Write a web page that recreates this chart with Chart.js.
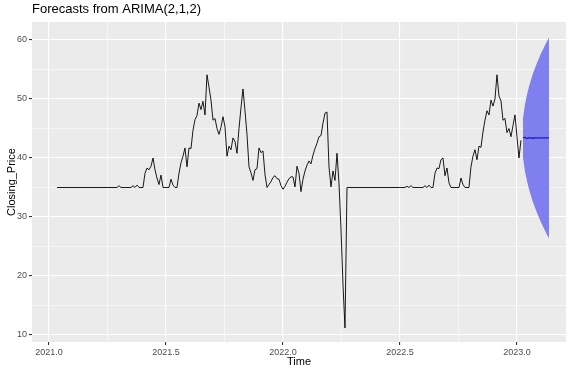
<!DOCTYPE html>
<html>
<head>
<meta charset="utf-8">
<script src="https://cdn.jsdelivr.net/npm/chart.js@4/dist/chart.umd.min.js"></script>
<style>
  html, body { margin: 0; padding: 0; background: #ffffff; }
  #wrap { width: 571px; height: 374px; }
</style>
</head>
<body>
<div id="wrap"><canvas id="chart" width="571" height="374"></canvas></div>
<script>
// Observed closing prices, evenly spaced in time from timeStart with step timeStep
const timeStart = 2021.0342;
const timeStep = 1 / 117;

const closingPrice = [
  35.0, 35.0, 35.0, 35.0, 35.0, 35.0, 35.0, 35.0, 35.0, 35.0, 35.0, 35.0, 35.0, 35.0, 35.0, 35.0,
  35.0, 35.0, 35.0, 35.0, 35.0, 35.0, 35.0, 35.0, 35.0, 35.0, 35.0, 35.0, 35.0, 35.0, 35.0,
  35.3, 35.0, 35.0, 35.0, 35.0, 35.0, 35.0, 35.3, 35.0, 35.4, 35.0, 35.0, 35.0,
  37.4, 38.3, 38.0, 38.6, 40.0, 38.0, 36.6, 35.5, 37.1, 35.0, 35.0, 35.0, 35.0, 36.4, 35.4, 35.0, 35.0,
  37.4, 39.2, 40.3, 41.7, 38.5, 41.7, 41.6, 44.7, 46.5, 47.2, 49.3, 48.2, 49.6, 47.3, 54.1, 52.0, 49.8, 46.4, 46.7, 45.0,
  44.0, 45.2, 47.0, 45.3, 40.3, 42.0, 41.4, 43.4, 42.8, 40.8, 45.0, 48.5, 51.7, 48.0, 44.0, 38.5, 37.5, 36.2, 38.0, 38.2,
  41.7, 40.9, 41.2, 37.2, 35.0, 35.5, 36.0, 36.7, 37.0, 36.5, 36.4, 35.3, 34.7, 35.2, 35.9, 36.5, 36.8, 36.8, 35.1, 38.6,
  37.4, 34.3, 36.4, 37.8, 38.8, 39.5, 39.0, 40.5, 41.6, 42.5, 43.6, 43.8, 45.9, 47.6, 47.8, 38.5, 35.1, 37.8, 36.2, 40.8,
  35.7, 28.0, 18.5, 11.2, 35.0,
  35.0, 35.0, 35.0, 35.0, 35.0, 35.0, 35.0, 35.0, 35.0, 35.0, 35.0, 35.0, 35.0, 35.0, 35.0,
  35.0, 35.0, 35.0, 35.0, 35.0, 35.0, 35.0, 35.0, 35.0, 35.0, 35.0, 35.0, 35.0, 35.0, 35.2,
  35.0, 35.3, 35.0, 35.0, 35.0, 35.0, 35.0, 35.0, 35.3, 35.0, 35.4, 35.0, 35.0,
  37.4, 38.3, 38.2, 39.7, 40.0, 37.0, 38.3, 35.8, 35.0, 35.0, 35.0, 35.0, 35.0, 36.6, 35.5, 35.0, 35.0, 35.0,
  38.5, 40.3, 41.4, 39.7, 42.0, 41.8, 44.4, 46.4, 48.0, 47.3, 49.8, 48.8, 50.0, 54.1, 50.5, 49.7, 46.4, 46.7,
  44.3, 45.0, 43.6, 45.5, 47.3, 43.6, 40.0, 43.0
];

// ARIMA(2,1,2) point forecast and prediction interval
const forecastMean  = [43.4, 43.5, 43.3, 43.45, 43.4, 43.35, 43.42, 43.4, 43.38, 43.42, 43.4, 43.4, 43.4, 43.4];
const forecastUpper = [46.7, 49.1, 50.7, 52.1, 53.2, 54.3, 55.2, 56.1, 56.9, 57.7, 58.4, 59.1, 59.8, 60.4];
const forecastLower = [40.1, 37.7, 36.1, 34.7, 33.6, 32.5, 31.6, 30.7, 29.9, 29.1, 28.4, 27.7, 27.0, 26.4];

// Axis ticks
const xMajorTicks = [2021.0, 2021.5, 2022.0, 2022.5, 2023.0];
const xMinorTicks = [2021.25, 2021.75, 2022.25, 2022.75];
const yMajorTicks = [10, 20, 30, 40, 50, 60];
const yMinorTicks = [15, 25, 35, 45, 55];

const titleText = 'Forecasts from ARIMA(2,1,2)';
const xTitle = 'Time';
const yTitle = 'Closing_Price';

const toTime = i => timeStart + i * timeStep;
const seriesPoints = closingPrice.map((v, i) => ({ x: toTime(i), y: v }));
const offset = closingPrice.length;
const meanPoints  = forecastMean.map((v, i) => ({ x: toTime(offset + i), y: v }));
const upperPoints = forecastUpper.map((v, i) => ({ x: toTime(offset + i), y: v }));
const lowerPoints = forecastLower.map((v, i) => ({ x: toTime(offset + i), y: v }));

const isIn = (list, v) => list.some(t => Math.abs(t - v) < 1e-6);

Chart.defaults.font.family = '"Liberation Sans", Arial, sans-serif';

// Grey panel behind the grid, ggplot style
const panelBackground = {
  id: 'panelBackground',
  beforeDraw(chart) {
    const { ctx, chartArea: a } = chart;
    ctx.save();
    ctx.fillStyle = '#EBEBEB';
    ctx.fillRect(a.left, a.top, a.right - a.left, a.bottom - a.top);
    ctx.restore();
  }
};

function axisOptions(majors, minors, labelFmt, fitFn, titleText, titlePad) {
  return {
    type: 'linear',
    afterBuildTicks: s => {
      s.ticks = majors.concat(minors).sort((a, b) => a - b).map(v => ({ value: v }));
    },
    ticks: {
      autoSkip: false,
      maxRotation: 0,
      includeBounds: false,
      color: '#4D4D4D',
      font: { size: 9 },
      padding: 2,
      callback: v => isIn(majors, v) ? labelFmt(v) : ''
    },
    grid: {
      color: '#FFFFFF',
      lineWidth: c => (c.tick && isIn(majors, c.tick.value)) ? 1.1 : 0.55,
      tickColor: c => (c.tick && isIn(majors, c.tick.value)) ? '#333333' : 'rgba(0,0,0,0)',
      tickLength: 3,
      drawTicks: true
    },
    border: { display: false },
    title: {
      display: true,
      text: titleText,
      color: '#000000',
      font: { size: 11, lineHeight: 1.2 },
      padding: titlePad
    },
    afterFit: fitFn
  };
}

new Chart(document.getElementById('chart'), {
  type: 'line',
  data: {
    datasets: [
      {
        label: 'lower',
        data: lowerPoints,
        borderWidth: 0,
        borderColor: 'rgba(0,0,0,0)',
        pointRadius: 0,
        fill: false,
        order: 2
      },
      {
        label: 'upper',
        data: upperPoints,
        borderWidth: 0,
        borderColor: 'rgba(0,0,0,0)',
        backgroundColor: '#7F7FF0',
        pointRadius: 0,
        fill: 0,
        order: 2
      },
      {
        label: 'forecast',
        data: meanPoints,
        borderColor: '#1C1CB8',
        borderWidth: 1.3,
        pointRadius: 0,
        fill: false,
        order: 0
      },
      {
        label: 'Closing_Price',
        data: seriesPoints,
        borderColor: '#000000',
        borderWidth: 0.9,
        pointRadius: 0,
        tension: 0,
        fill: false,
        order: 1
      }
    ]
  },
  options: {
    responsive: false,
    animation: false,
    events: [],
    layout: { padding: { left: 0, right: 5, top: 0, bottom: 0 } },
    plugins: {
      legend: { display: false },
      tooltip: { enabled: false },
      title: {
        display: true,
        text: titleText,
        align: 'start',
        fullSize: false,
        color: '#000000',
        font: { size: 13, weight: 'normal', lineHeight: 1 },
        padding: { top: 3, bottom: 6 }
      }
    },
    scales: {
      x: Object.assign(
        axisOptions(xMajorTicks, xMinorTicks, v => v.toFixed(1), s => { s.height = 32; }, xTitle, { top: 0, bottom: 5 }),
        { min: 2020.9274, max: 2023.2095 }
      ),
      y: Object.assign(
        axisOptions(yMajorTicks, yMinorTicks, v => String(v), s => { s.width = 32; }, yTitle, { top: 5.5, bottom: 0 }),
        { min: 8.81, max: 63.05 }
      )
    }
  },
  plugins: [panelBackground]
});
</script>
</body>
</html>
